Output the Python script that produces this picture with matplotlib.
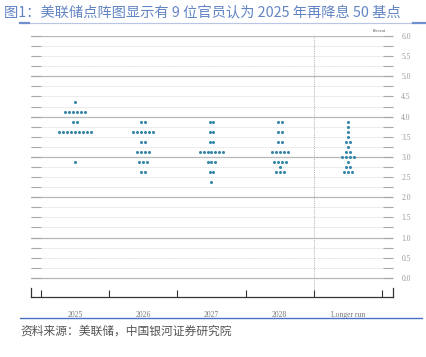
import numpy as np
import matplotlib
matplotlib.use('Agg')
import matplotlib.pyplot as plt
from matplotlib.lines import Line2D

plt.rcParams['font.family'] = ['Noto Sans CJK SC', 'DejaVu Sans']

# 点阵图数据：每个类别的 (利率水平, 人数)
categories = ['2025', '2026', '2027', '2028', 'Longer run']
dots_2025 = [(4.375, 1), (4.125, 6), (3.875, 2), (3.625, 9), (2.875, 1)]
dots_2026 = [(3.875, 2), (3.625, 6), (3.375, 2), (3.125, 4), (2.875, 3), (2.625, 2)]
dots_2027 = [(3.875, 2), (3.625, 2), (3.375, 2), (3.125, 7), (2.875, 3), (2.625, 2), (2.375, 1)]
dots_2028 = [(3.875, 2), (3.625, 2), (3.375, 2), (3.125, 5), (2.875, 4), (2.75, 1), (2.625, 3)]
dots_longer = [(3.875, 1), (3.75, 1), (3.625, 1), (3.5, 1), (3.375, 2), (3.25, 1),
               (3.125, 2), (3.0, 4), (2.875, 1), (2.75, 2), (2.625, 3)]
all_dots = [dots_2025, dots_2026, dots_2027, dots_2028, dots_longer]
ytick_labels = ['0.0', '0.5', '1.0', '1.5', '2.0', '2.5', '3.0', '3.5',
                '4.0', '4.5', '5.0', '5.5', '6.0']

W, H = 427, 357
fig = plt.figure(figsize=(W / 100, H / 100), dpi=100)
ax = fig.add_axes([31 / W, 1 - 297 / H, (393 - 31) / W, (297 - 36) / H])

ax.set_xlim(-0.647, 4.662)
ax.set_ylim(-0.475, 6.0)

# 网格线：整数为实线，其余为点线
for v in np.arange(0, 6.01, 0.25):
    if abs(v - round(v)) < 1e-9:
        ax.axhline(v, color='#b8b8b8', lw=0.9, zorder=1)
    else:
        ax.axhline(v, color='#d2d2d2', lw=0.6, ls=(0, (1, 1)), zorder=1)

# 分隔线
ax.axvline(3.5, color='#a0a0a0', lw=0.6, ls=(0, (1, 1.2)), zorder=1)

# 画点
dx = 0.058
for i, rows in enumerate(all_dots):
    for level, n in rows:
        xs = i + (np.arange(n) - (n - 1) / 2) * dx
        ax.plot(xs, [level] * n, 'o', color='#3586aa', ms=2.2, mec='none', zorder=3)

# 坐标轴样式
ax.spines['top'].set_visible(False)
ax.spines['bottom'].set_color('#333333')
ax.spines['bottom'].set_linewidth(0.9)
for s in ['left', 'right']:
    ax.spines[s].set_bounds(-0.475, -0.25)
    ax.spines[s].set_color('#333333')
    ax.spines[s].set_linewidth(0.9)

ax.set_xticks([-0.5, 0.5, 1.5, 2.5, 3.5, 4.5])
ax.set_xticklabels([])
ax.tick_params(axis='x', which='major', direction='in', length=5, color='#333333', width=0.8)
ax.set_xticks(range(len(categories)), minor=True)
ax.set_xticklabels(categories, minor=True, fontsize=5.5, family='Liberation Serif', color='#777777')
ax.tick_params(axis='x', which='minor', length=0, pad=10)

ax.yaxis.tick_right()
ax.set_yticks(np.arange(0, 6.01, 0.5))
ax.set_yticklabels(ytick_labels, fontsize=5.5, family='Liberation Serif', color='#999999')
ax.set_yticks(np.arange(0.25, 6.0, 0.5), minor=True)
ax.tick_params(axis='y', which='both', direction='in', length=7, width=0.8, color='#a8a8a8',
               left=True, right=True, pad=6)

ax.text(4.56, 6.07, 'Percent', fontsize=3.2, family='Liberation Serif', color='#555555',
        ha='right', va='bottom')

# 标题和来源
fig.text(4 / W, 1 - 13 / H, '图1：美联储点阵图显示有 9 位官员认为 2025 年再降息 50 基点',
         fontsize=10.3, color='#6284c4', va='center', ha='left')
fig.add_artist(Line2D([20 / W, 420 / W], [1 - 23 / H] * 2, color='#b8c6e4', lw=0.8))
fig.add_artist(Line2D([20 / W, 29 / W], [1 - 23 / H] * 2, color='#6f8fcf', lw=1.6))
fig.add_artist(Line2D([413 / W, 427 / W], [1 - 23 / H] * 2, color='#6f8fcf', lw=1.6))
fig.add_artist(Line2D([20 / W, 422 / W], [1 - 318 / H] * 2, color='#4a72c4', lw=1.0))
fig.text(20 / W, 1 - 331 / H, '资料来源：美联储，中国银河证券研究院',
         fontsize=8.5, color='#555555', va='center', ha='left', style='italic')

fig.savefig('out.png', dpi=100)
